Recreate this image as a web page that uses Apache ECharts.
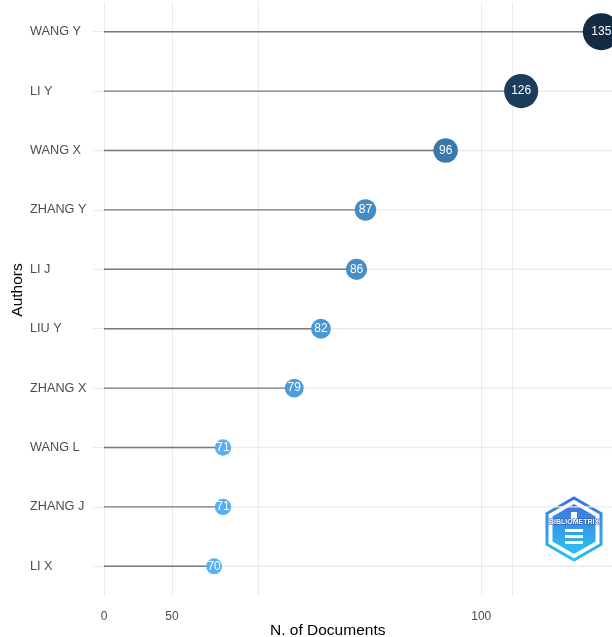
<!DOCTYPE html>
<html>
<head>
<meta charset="utf-8">
<script src="https://cdn.jsdelivr.net/npm/echarts@6/dist/echarts.min.js"></script>
<style>
html, body { margin: 0; padding: 0; background: #ffffff; }
#main { width: 612px; height: 637px; }
</style>
</head>
<body>
<div id="main"></div>
<script>
// data
var authors = ['WANG Y', 'LI Y', 'WANG X', 'ZHANG Y', 'LI J', 'LIU Y', 'ZHANG X', 'WANG L', 'ZHANG J', 'LI X'];
var docs = [135, 126, 96, 87, 86, 82, 79, 71, 71, 70];
var xLabelValues = [0, 50, 100];
var xGridValues = [0, 50, 75, 100, 125];
var xMax = 136.2;

var chart = echarts.init(document.getElementById('main'));
var font = "'Liberation Sans', Arial, sans-serif";

var option = {
    animation: false,
    textStyle: { fontFamily: font },
    grid: { left: 104, right: 0, top: 2, bottom: 41, outerBoundsMode: 'none' },
    visualMap: {
        show: false,
        type: 'continuous',
        seriesIndex: 2,
        dimension: 0,
        min: 70,
        max: 135,
        inRange: {
            color: ['#56B1F7', '#336A98', '#132B43'],
            symbolSize: [16, 37]
        }
    },
    xAxis: {
        type: 'value',
        min: 0,
        max: xMax,
        // the picture squeezes 0-70 and 100-125
        breaks: [
            { start: 0, end: 50, gap: 7.64 },
            { start: 50, end: 70, gap: 4.72 },
            { start: 100, end: 125, gap: 3.48 }
        ],
        breakArea: { show: false },
        axisLine: { show: false },
        axisTick: { show: false, customValues: xGridValues },
        axisLabel: {
            customValues: xLabelValues,
            color: '#4D4D4D',
            fontSize: 12,
            margin: 15
        },
        splitLine: { show: true, lineStyle: { color: '#EBEBEB', width: 1 } }
    },
    yAxis: {
        type: 'category',
        inverse: true,
        data: authors,
        axisLine: { show: false },
        axisTick: { show: true, alignWithLabel: true, length: 11, lineStyle: { color: '#EBEBEB' } },
        axisLabel: { color: '#4D4D4D', fontSize: 12.7, align: 'left', margin: 74 },
        splitLine: { show: false }
    },
    series: [
        {
            // horizontal grid line at each author
            type: 'bar',
            data: authors.map(function () { return xMax; }),
            barWidth: 1.4,
            silent: true,
            z: 1,
            itemStyle: { color: '#EBEBEB' }
        },
        {
            // stems
            type: 'bar',
            data: docs,
            barWidth: 1.4,
            barGap: '-100%',
            silent: true,
            z: 2,
            itemStyle: { color: '#7a7a7a' }
        },
        {
            type: 'scatter',
            z: 3,
            data: docs.map(function (v, i) { return [v, authors[i]]; }),
            label: {
                show: true,
                position: 'inside',
                color: '#ffffff',
                fontSize: 12,
                formatter: function (p) { return p.value[0]; }
            },
            itemStyle: { opacity: 1 }
        }
    ],
    graphic: [
        {
            type: 'text',
            left: 270,
            top: 623,
            style: { text: 'N. of Documents', fill: '#000', fontSize: 15.5, fontFamily: font }
        },
        {
            type: 'text',
            x: 18,
            y: 290,
            rotation: Math.PI / 2,
            style: {
                text: 'Authors', fill: '#000', fontSize: 15.5, fontFamily: font,
                align: 'center', verticalAlign: 'middle'
            }
        },
        {
            // bibliometrix badge
            type: 'group',
            x: 574,
            y: 529,
            children: [
                {
                    type: 'polygon',
                    shape: { points: [[0, -31], [27, -15.5], [27, 15.5], [0, 31], [-27, 15.5], [-27, -15.5]] },
                    style: {
                        fill: 'none',
                        lineWidth: 3,
                        stroke: new echarts.graphic.LinearGradient(0, 0, 0, 1, [
                            { offset: 0, color: '#3d6fd8' }, { offset: 1, color: '#22c6f2' }
                        ])
                    }
                },
                {
                    type: 'polygon',
                    shape: { points: [[0, -25], [21.5, -12.5], [21.5, 12.5], [0, 25], [-21.5, 12.5], [-21.5, -12.5]] },
                    style: {
                        fill: new echarts.graphic.LinearGradient(0, 0, 0, 1, [
                            { offset: 0, color: '#3f74dc' }, { offset: 1, color: '#2bc4f3' }
                        ])
                    }
                },
                { type: 'rect', shape: { x: -3, y: -17, width: 6, height: 8 }, style: { fill: '#ffffff' } },
                { type: 'rect', shape: { x: -9, y: 0, width: 18, height: 3 }, style: { fill: '#ffffff' } },
                { type: 'rect', shape: { x: -9, y: 6, width: 18, height: 3 }, style: { fill: '#ffffff' } },
                { type: 'rect', shape: { x: -9, y: 12, width: 18, height: 3 }, style: { fill: '#ffffff' } },
                {
                    type: 'text',
                    x: 0,
                    y: -7,
                    style: {
                        text: 'BIBLIOMETRIX',
                        fill: '#ffffff',
                        stroke: '#2a4fa8',
                        lineWidth: 1,
                        fontSize: 7,
                        fontWeight: 'bold',
                        align: 'center',
                        verticalAlign: 'middle',
                        fontFamily: font
                    }
                }
            ]
        }
    ]
};

chart.setOption(option);
</script>
</body>
</html>
